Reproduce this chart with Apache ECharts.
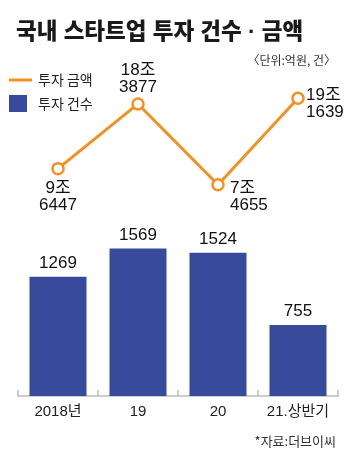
<!DOCTYPE html>
<html>
<head>
<meta charset="utf-8">
<script src="https://cdn.jsdelivr.net/npm/echarts@6/dist/echarts.min.js"></script>
<style>
  html, body { margin: 0; padding: 0; background: #fff; }
  #chart { width: 350px; height: 462px; }
</style>
</head>
<body>
<div id="chart"></div>
<script>
// Years on the shared category axis
const categories = ['2018년', '19', '20', '21.상반기'];
// Investment amount, 억원
const amountValues = [96447, 183877, 74655, 191639];
const amountLabels = ['9조\n6447', '18조\n3877', '7조\n4655', '19조\n1639'];
// Number of investments, 건
const countValues = [1269, 1569, 1524, 755];

const ORANGE = '#f4901f';
const NAVY = '#384a9c';
const NUM_FONT = '"Liberation Sans", "Noto Sans CJK KR", sans-serif';
const KR_FONT = '"Noto Sans CJK KR", sans-serif';
// Latin-first stack keeps the spaces and middle dot of the headline narrow
const TITLE_FONT = '"Liberation Sans", "Noto Sans CJK KR", sans-serif';

// label placement per point on the amount line
const amountLabelPlacement = [
  { offset: [0, 28], align: 'center' },
  { offset: [0, -25], align: 'center' },
  { offset: [12, 12], align: 'left' },
  { offset: [8, 6], align: 'left' }
];

const chart = echarts.init(document.getElementById('chart'), null, { renderer: 'canvas' });

chart.setOption({
  animation: false,
  backgroundColor: '#fff',
  title: [
    {
      text: '국내 스타트업 투자 건수 · 금액',
      left: 11, top: 17,
      textStyle: { fontFamily: TITLE_FONT, fontSize: 22.5, fontWeight: 900, color: '#1a1a1a' }
    },
    {
      text: '〈단위:억원, 건〉',
      right: 9, top: 49,
      textStyle: { fontFamily: KR_FONT, fontSize: 12, fontWeight: 'normal', color: '#333' }
    },
    {
      text: '*자료:더브이씨',
      right: 9, top: 430,
      textStyle: { fontFamily: KR_FONT, fontSize: 13, fontWeight: 'normal', color: '#333' }
    }
  ],
  legend: [
    {
      data: [{ name: '투자 금액', itemStyle: { color: ORANGE, borderWidth: 0 } }],
      left: 9, top: 73,
      icon: 'rect', itemWidth: 23, itemHeight: 3,
      padding: 0,
      textStyle: { fontFamily: KR_FONT, fontSize: 14, color: '#222', padding: [0, 0, 0, 1] }
    },
    {
      data: ['투자 건수'],
      left: 9, top: 95,
      icon: 'rect', itemWidth: 18, itemHeight: 17,
      padding: 0,
      textStyle: { fontFamily: KR_FONT, fontSize: 14, color: '#222', padding: [0, 0, 0, 6] }
    }
  ],
  grid: [
    { left: 18, right: 12, top: 92, height: 148 },
    { left: 18, right: 12, top: 208, bottom: 66 }
  ],
  xAxis: [
    {
      gridIndex: 0, type: 'category', data: categories, show: false, boundaryGap: true
    },
    {
      gridIndex: 1, type: 'category', data: categories, boundaryGap: true,
      axisLine: { lineStyle: { color: '#bdbdbd', width: 1.5 } },
      axisTick: { show: true, inside: true, length: 6, lineStyle: { color: '#bdbdbd', width: 1.5 } },
      axisLabel: { interval: 0, margin: 8, fontFamily: NUM_FONT, fontSize: 15, color: '#222' }
    }
  ],
  yAxis: [
    { gridIndex: 0, type: 'value', min: 0, max: 200000, show: false },
    { gridIndex: 1, type: 'value', min: 0, max: 2000, show: false }
  ],
  series: [
    {
      name: '투자 건수',
      type: 'bar',
      xAxisIndex: 1, yAxisIndex: 1,
      data: countValues,
      barWidth: 57,
      itemStyle: { color: NAVY },
      label: {
        show: true, position: 'top', distance: 5,
        fontFamily: NUM_FONT, fontSize: 17, color: '#111'
      }
    },
    {
      name: '투자 금액',
      type: 'line',
      xAxisIndex: 0, yAxisIndex: 0,
      data: amountValues.map((v, i) => ({
        value: v,
        label: {
          show: true,
          position: 'inside',
          offset: amountLabelPlacement[i].offset,
          align: amountLabelPlacement[i].align,
          verticalAlign: 'middle',
          formatter: amountLabels[i]
        }
      })),
      symbol: 'circle',
      symbolSize: 11,
      showAllSymbol: true,
      lineStyle: { color: ORANGE, width: 3 },
      itemStyle: { color: '#fff', borderColor: ORANGE, borderWidth: 2.5 },
      label: {
        fontFamily: NUM_FONT, fontSize: 17, lineHeight: 17, color: '#111'
      },
      z: 5
    }
  ]
});
</script>
</body>
</html>
